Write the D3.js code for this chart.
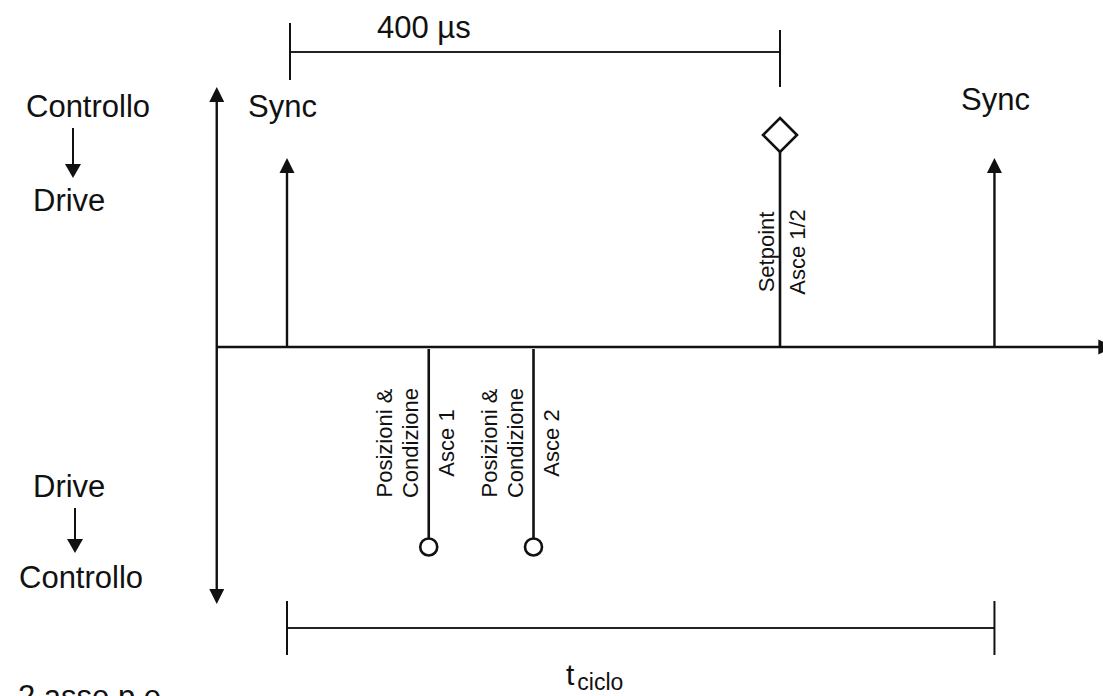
<!DOCTYPE html>
<html><head><meta charset="utf-8">
<script src="https://cdn.jsdelivr.net/npm/d3@7"></script>
<style>
html,body{margin:0;padding:0;background:#fff;overflow:hidden}
text{font-family:"Liberation Sans",Arial,Helvetica,sans-serif;fill:#111}
</style></head><body>
<svg id="c" width="1103" height="696"></svg>
<script>
// time positions in µs (Sync at 0, Setpoint at 400)
const syncTimes = [0, 574];
const syncLabels = ["Sync", "Sync"];
const setpointTimes = [400];
const setpointLabels = [["Setpoint", "Asce 1/2"]];
const feedbackTimes = [115, 200];
const feedbackLabels = [["Posizioni &", "Condizione", "Asce 1"], ["Posizioni &", "Condizione", "Asce 2"]];
const spanLabels = ["400 µs", "t", "ciclo"];
const sideLabels = ["Controllo", "Drive", "Drive", "Controllo"];
const footnote = "2 asse p.e.";
const axisStart = -57, axisEnd = 668;
const syncLevel = 0.735, setpointLevel = 0.825, feedbackLevel = -0.778;

const svg = d3.select("#c");
const x = d3.scaleLinear().domain([0, 400]).range([287, 780]);
const y = d3.scaleLinear().domain([-1, 1]).range([604, 90]);
const ink = "#111";

function arrowHead(tx, ty, dir, w, l) {
  let pts;
  if (dir === "up") pts = [[tx, ty], [tx - w / 2, ty + l], [tx + w / 2, ty + l]];
  else if (dir === "down") pts = [[tx, ty], [tx - w / 2, ty - l], [tx + w / 2, ty - l]];
  else pts = [[tx, ty], [tx - l, ty - w / 2], [tx - l, ty + w / 2]];
  svg.append("path").attr("d", d3.line()(pts) + "Z").attr("fill", ink);
}

// vertical axis
const x0 = x(axisStart);
svg.append("line").attr("x1", x0).attr("x2", x0).attr("y1", y(1) + 8).attr("y2", y(-1) - 8)
  .attr("stroke", ink).attr("stroke-width", 2.4);
arrowHead(x0, y(1) - 3, "up", 15, 15);
arrowHead(x0, y(-1), "down", 15, 15);

// horizontal axis
svg.append("line").attr("x1", x0).attr("x2", x(axisEnd) - 10).attr("y1", y(0)).attr("y2", y(0))
  .attr("stroke", ink).attr("stroke-width", 2.4);
arrowHead(x(axisEnd) + 3, y(0), "right", 15, 15);

// sync arrows
syncTimes.forEach((t, i) => {
  svg.append("line").attr("x1", x(t)).attr("x2", x(t)).attr("y1", y(0)).attr("y2", y(syncLevel) + 10)
    .attr("stroke", ink).attr("stroke-width", 2.4);
  arrowHead(x(t), y(syncLevel), "up", 15, 15);
});
svg.append("text").attr("x", x(syncTimes[0]) - 39).attr("y", 117).attr("font-size", 31).text(syncLabels[0]);
svg.append("text").attr("x", x(syncTimes[1]) + 1).attr("y", 110).attr("font-size", 31)
  .attr("text-anchor", "middle").text(syncLabels[1]);

// setpoint
setpointTimes.forEach((t, i) => {
  const cx = x(t), cy = y(setpointLevel), h = 17;
  svg.append("line").attr("x1", cx).attr("x2", cx).attr("y1", y(0)).attr("y2", cy + h)
    .attr("stroke", ink).attr("stroke-width", 2.6);
  svg.append("path").attr("d", `M${cx},${cy - h}L${cx + h},${cy}L${cx},${cy + h}L${cx - h},${cy}Z`)
    .attr("fill", "#fff").attr("stroke", ink).attr("stroke-width", 2.6);
  const offs = [-6, 25];
  setpointLabels[i].forEach((s, j) => {
    svg.append("text").attr("transform", `translate(${cx + offs[j]},${252}) rotate(-90)`)
      .attr("text-anchor", "middle").attr("font-size", 22).text(s);
  });
});

// feedback
feedbackTimes.forEach((t, i) => {
  const cx = x(t), cy = y(feedbackLevel), r = 8.5;
  svg.append("line").attr("x1", cx).attr("x2", cx).attr("y1", y(0) + 2).attr("y2", cy - r)
    .attr("stroke", ink).attr("stroke-width", 2.6);
  svg.append("circle").attr("cx", cx).attr("cy", cy).attr("r", r)
    .attr("fill", "#fff").attr("stroke", ink).attr("stroke-width", 2.6);
  const offs = [-37, -11, 25];
  feedbackLabels[i].forEach((s, j) => {
    svg.append("text").attr("transform", `translate(${cx + offs[j]},${443}) rotate(-90)`)
      .attr("text-anchor", "middle").attr("font-size", 22).text(s);
  });
});

// 400 µs bracket
const bx1 = x(0) + 3, bx2 = x(400);
svg.append("line").attr("x1", bx1).attr("x2", bx2).attr("y1", 52).attr("y2", 52).attr("stroke", "#222").attr("stroke-width", 2.2);
svg.append("line").attr("x1", bx1).attr("x2", bx1).attr("y1", 23).attr("y2", 80).attr("stroke", ink).attr("stroke-width", 2);
svg.append("line").attr("x1", bx2).attr("x2", bx2).attr("y1", 30).attr("y2", 87).attr("stroke", ink).attr("stroke-width", 2);
svg.append("text").attr("x", 377).attr("y", 38).attr("font-size", 31).text(spanLabels[0]);

// t ciclo bracket
const cx1 = x(syncTimes[0]), cx2 = x(syncTimes[1]);
svg.append("line").attr("x1", cx1).attr("x2", cx2).attr("y1", 628).attr("y2", 628).attr("stroke", "#222").attr("stroke-width", 2.2);
[cx1, cx2].forEach(v => svg.append("line").attr("x1", v).attr("x2", v).attr("y1", 601).attr("y2", 655).attr("stroke", ink).attr("stroke-width", 2));
const tc = svg.append("text").attr("x", 566).attr("y", 685).attr("font-size", 30);
tc.append("tspan").text(spanLabels[1]);
tc.append("tspan").attr("font-size", 23).attr("dy", 5).attr("dx", 3).text(spanLabels[2]);

// side labels
svg.append("text").attr("x", 26).attr("y", 117).attr("font-size", 31).text(sideLabels[0]);
svg.append("line").attr("x1", 73).attr("x2", 73).attr("y1", 128).attr("y2", 168).attr("stroke", ink).attr("stroke-width", 2);
arrowHead(73, 178, "down", 16, 14);
svg.append("text").attr("x", 33).attr("y", 211).attr("font-size", 31).text(sideLabels[1]);

svg.append("text").attr("x", 33).attr("y", 497).attr("font-size", 31).text(sideLabels[2]);
svg.append("line").attr("x1", 75).attr("x2", 75).attr("y1", 508).attr("y2", 543).attr("stroke", ink).attr("stroke-width", 2);
arrowHead(75, 553, "down", 16, 14);
svg.append("text").attr("x", 19).attr("y", 588).attr("font-size", 31).text(sideLabels[3]);

svg.append("text").attr("x", 18).attr("y", 707).attr("font-size", 31).text(footnote);
</script>
</body></html>
